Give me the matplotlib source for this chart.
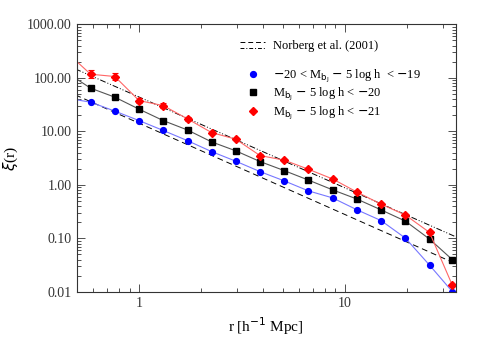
import numpy as np
import matplotlib
matplotlib.use("Agg")
import matplotlib.pyplot as plt
from matplotlib.lines import Line2D
from matplotlib.legend_handler import HandlerBase
from matplotlib.ticker import FixedLocator, FixedFormatter, NullFormatter

# ---------------- data ----------------
r = [0.443, 0.581, 0.762, 1.00, 1.31, 1.72, 2.25, 2.95, 3.87, 5.07,
     6.65, 8.72, 11.4, 15.0, 19.7, 25.8, 33.3]

xi_faint = [41.7, 35.2, 23.9, 15.9, 10.4, 6.70, 4.19, 2.77, 1.77, 1.19,
            0.773, 0.571, 0.345, 0.215, 0.101, 0.0316, 0.0101]
xi_mid = [127.0, 64.2, 43.6, 26.0, 15.9, 10.6, 6.36, 4.33, 2.73, 1.85,
          1.23, 0.807, 0.547, 0.341, 0.210, 0.097, 0.040]
xi_bright = [305.0, 117.0, 106.0, 37.6, 30.3, 17.1, 9.50, 7.15, 3.53, 2.90,
             1.96, 1.29, 0.740, 0.436, 0.273, 0.129, 0.0133]
# error bars on the bright sample (dex)
err_bright = [0.08, 0.08, 0.07, 0.05, 0.04, 0.03, 0.03, 0.02, 0.02, 0.02,
              0.02, 0.02, 0.02, 0.02, 0.02, 0.02, 0.02]

# Norberg et al. (2001) fits
r_norb = [0.49, 35.0]
xi_norb_dashdot = [147.0, 0.105]
xi_norb_dashed = [48.0, 0.033]

# ---------------- plot ----------------
plt.rcParams['font.family'] = ['Liberation Serif', 'DejaVu Serif']

fig = plt.figure(figsize=(4.8, 3.43), dpi=100)
ax = fig.add_axes([0.160, 0.149, 0.789, 0.780])

ax.plot(r_norb, xi_norb_dashdot, color='black', lw=0.7,
        dashes=[6, 2, 1, 2, 1, 2])
ax.plot(r_norb, xi_norb_dashed, color='black', lw=0.7, dashes=[6, 4])

ax.plot(r, xi_faint, '-', color='#7777ff', lw=0.8)
ax.plot(r, xi_faint, 'o', color='blue', ms=4.2, mec='blue')
ax.plot(r, xi_mid, '-', color='#555555', lw=0.8)
ax.plot(r, xi_mid, 's', color='black', ms=4.0)

xb = np.array(xi_bright)
eb = np.array(err_bright)
lo = xb - xb / 10 ** eb
hi = xb * 10 ** eb - xb
ax.errorbar(r, xi_bright, yerr=[lo, hi], fmt='none', ecolor='red',
            elinewidth=0.8, capsize=2, capthick=0.8)
ax.plot(r, xi_bright, '-', color='#ff6666', lw=0.8)
ax.plot(r, xi_bright, 'D', color='red', ms=4.0)

ax.set_xscale('log')
ax.set_yscale('log')
ax.set_xlim(0.498, 34.5)
ax.set_ylim(0.01, 1000)

yt = [0.01, 0.1, 1, 10, 100, 1000]
ax.yaxis.set_major_locator(FixedLocator(yt))
ax.yaxis.set_major_formatter(FixedFormatter(['%.2f' % v for v in yt]))
ax.yaxis.set_minor_formatter(NullFormatter())
ax.xaxis.set_major_locator(FixedLocator([1, 10]))
ax.xaxis.set_major_formatter(FixedFormatter(['1', '10']))
ax.xaxis.set_minor_formatter(NullFormatter())

ax.tick_params(which='both', direction='in', top=True, right=True,
               width=0.6, labelsize=10, colors='#333333')
ax.tick_params(which='major', length=6)
ax.tick_params(which='minor', length=3)
for s in ax.spines.values():
    s.set_linewidth(0.8)
    s.set_color('#333333')

ax.set_xlabel(r'r [h$^{-1}$ Mpc]', fontsize=11, labelpad=4)
ax.set_ylabel(r'$\xi$(r)', fontsize=11)
ax.yaxis.set_label_coords(-0.150, 0.5)


class StackedLines(HandlerBase):
    def create_artists(self, legend, orig_handle, xdescent, ydescent,
                       width, height, fontsize, trans):
        l1 = Line2D([0, width], [0.8 * height, 0.8 * height],
                    color='black', lw=0.7, dashes=[5, 3], transform=trans)
        l2 = Line2D([0, width], [0.2 * height, 0.2 * height],
                    color='black', lw=0.7, dashes=[4, 2, 1, 2],
                    transform=trans)
        return [l1, l2]


norb_handle = Line2D([], [])
leg1 = ax.legend([norb_handle], ['Norberg et al. (2001)'],
                 handler_map={Line2D: StackedLines()},
                 loc='upper left', bbox_to_anchor=(0.430, 0.940),
                 borderpad=0, borderaxespad=0,
                 frameon=False, fontsize=9, handlelength=2.0,
                 handletextpad=0.65)
ax.add_artist(leg1)

h_faint = Line2D([], [], ls='none', marker='o', color='blue', ms=4.2)
h_mid = Line2D([], [], ls='none', marker='s', color='black', ms=4.0)
h_bright = Line2D([], [], ls='none', marker='D', color='red', ms=4.0)
labels = [r'$-$20 < M$_{\rm b_J}$ $-$ 5 log h  < $-$19',
          r'M$_{\rm b_J}$ $-$ 5 log h < $-$20',
          r'M$_{\rm b_J}$ $-$ 5 log h < $-$21']
ax.legend([h_faint, h_mid, h_bright], labels, loc='upper left',
          bbox_to_anchor=(0.449, 0.838), borderpad=0, borderaxespad=0,
          frameon=False, fontsize=9,
          handlelength=1.0, handletextpad=1.1, labelspacing=0.12)

fig.savefig('out.png', dpi=100)
